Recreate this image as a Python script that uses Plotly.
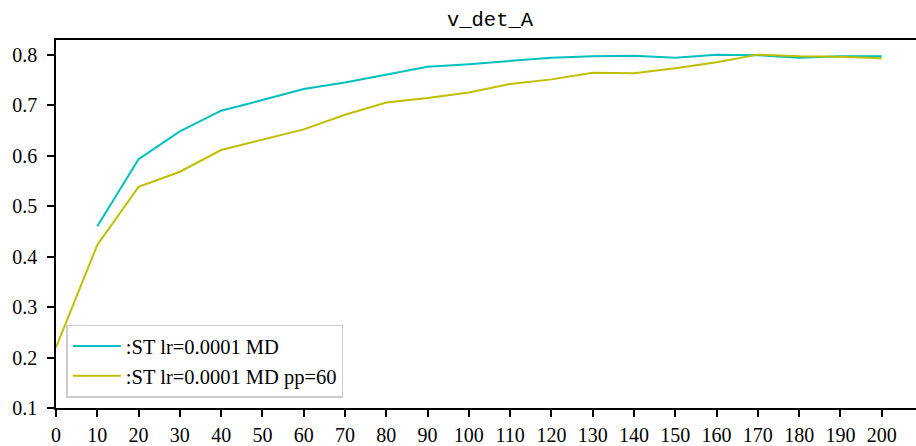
import plotly.graph_objects as go

x_steps = [0, 10, 20, 30, 40, 50, 60, 70, 80, 90, 100, 110, 120, 130, 140, 150, 160, 170, 180, 190, 200]
md_vals = [None, 0.460, 0.593, 0.648, 0.689, 0.710, 0.732, 0.745, 0.760, 0.776, 0.781, 0.787, 0.794,
           0.797, 0.798, 0.794, 0.800, 0.799, 0.794, 0.797, 0.797]
pp_vals = [0.220, 0.423, 0.538, 0.568, 0.611, 0.631, 0.652, 0.681, 0.705, 0.714, 0.725, 0.742, 0.751,
           0.764, 0.763, 0.773, 0.785, 0.800, 0.797, 0.796, 0.793]
names = [":ST lr=0.0001 MD", ":ST lr=0.0001 MD pp=60"]
colors = ["#00bfbf", "#bfbf00"]
title = "v_det_A"
y_ticks = [0.1, 0.2, 0.3, 0.4, 0.5, 0.6, 0.7, 0.8]

SERIF = "Liberation Serif"
fig = go.Figure()
for name, vals, col in zip(names, [md_vals, pp_vals], colors):
    fig.add_trace(go.Scatter(x=x_steps, y=vals, mode="lines", name=name,
                             line=dict(color=col, width=2), connectgaps=False))

tickfont = dict(family=SERIF, size=20, color="black")
fig.update_layout(
    width=916, height=446,
    margin=dict(l=56, r=0, t=40, b=38),
    paper_bgcolor="white", plot_bgcolor="white",
    font=tickfont,
    title=dict(text=title, x=490 / 916, xanchor="center", y=1 - 19 / 446, yanchor="middle",
               font=dict(family="Liberation Mono", size=20.5, color="black")),
    showlegend=True,
    legend=dict(x=0.012, y=0.028, xanchor="left", yanchor="bottom",
                bgcolor="rgba(255,255,255,0.8)", bordercolor="#cccccc", borderwidth=1.5,
                font=dict(family=SERIF, size=20.5, color="black"),
                itemwidth=48, tracegroupgap=0),
)
fig.update_xaxes(range=[0, 208.3], tickmode="array", tickvals=x_steps, ticktext=[str(v) for v in x_steps],
                 tickfont=tickfont, ticklabelstandoff=1,
                 showgrid=False, zeroline=False, showline=True, linecolor="black", linewidth=1.5,
                 mirror=True, ticks="outside", ticklen=7, tickwidth=1.5, tickcolor="black")
fig.update_yaxes(range=[0.1, 0.829], tickmode="array", tickvals=y_ticks, ticktext=[f"{v:.1f}" for v in y_ticks],
                 tickfont=tickfont, ticklabelstandoff=6,
                 showgrid=False, zeroline=False, showline=True, linecolor="black", linewidth=1.5,
                 ticks="outside", ticklen=7, tickwidth=1.5, tickcolor="black")

fig.write_html("out.html")
